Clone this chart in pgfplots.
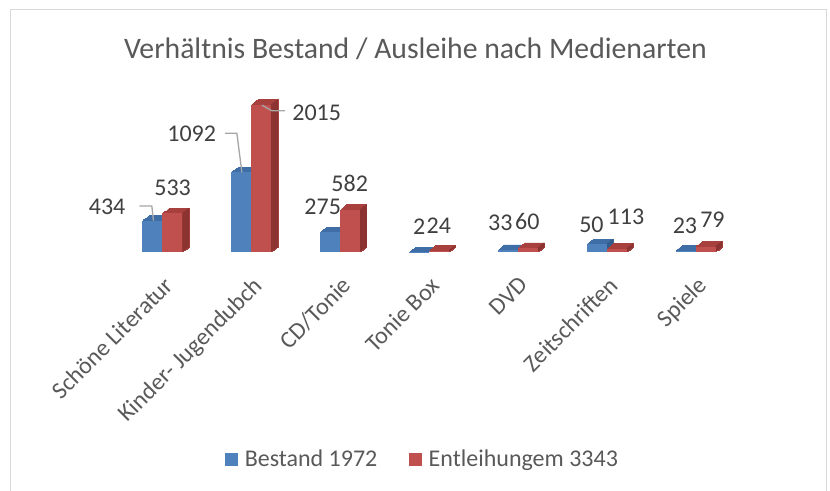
\documentclass[border=0pt]{standalone}
\usepackage{pgfplots}
\pgfplotsset{compat=1.18}
\usepackage{pgfplotstable}
\usepackage{fontspec}
\setmainfont{Carlito}
\definecolor{bfront}{HTML}{4F81BD}
\definecolor{btop}{HTML}{3F6EA6}
\definecolor{bside}{HTML}{335C8E}
\definecolor{rfront}{HTML}{C0504D}
\definecolor{rtop}{HTML}{A8403D}
\definecolor{rside}{HTML}{8A3331}
\definecolor{txt}{HTML}{595959}
\definecolor{labc}{HTML}{404040}
\definecolor{framec}{HTML}{D9D9D9}
\definecolor{leaderc}{HTML}{A6A6A6}

\pgfplotstableread{
x y
0 434
1 1092
2 275
3 2
4 33
5 113
6 23
}\bestand
\pgfplotstableread{
x y
0 533
1 2015
2 582
3 24
4 60
5 50
6 79
}\entl

% front bar: colour, shift, x, y, label, dx(px), dy(px)
\newcommand{\fb}[7]{\addplot[forget plot, fill=#1, draw=none, bar shift=#2,
  nodes near coords={#5},
  nodes near coords style={anchor=center, xshift=#6*0.75pt, yshift=#7*0.75pt, font=\fontsize{18pt}{21pt}\selectfont, text=labc}]
  coordinates {(#3,#4)};}

\begin{document}
\begin{tikzpicture}
\path[use as bounding box] (-88.5pt,-179pt) rectangle ++(622.5pt,368.25pt);
\draw[framec, line width=1.2pt] (-80.6pt,-180pt) -- (-80.6pt,182.1pt) -- (531.4pt,182.1pt) -- (531.4pt,-180pt);
\begin{axis}[
  name=ax, at={(0,0)}, anchor=south west,
  scale only axis, width=466.5pt, height=115.4pt,
  xmin=-0.5, xmax=6.5, ymin=0, ymax=2100,
  ybar, bar width=15pt,
  axis line style={draw=none},
  ytick=\empty,
  xtick={0,...,6},
  xticklabels={Schöne Literatur, Kinder- Jugendubch, CD/Tonie, Tonie Box, DVD, Zeitschriften, Spiele},
  major tick length=0pt,
  xticklabel style={xshift=0.4pt, yshift=-17pt, rotate=45, anchor=north east, inner sep=0pt, font=\fontsize{18pt}{21pt}\selectfont, text=txt},
  clip=false,
  legend style={at={(0.4904,-1.3466)}, anchor=center, draw=none, fill=none, legend columns=2,
    font=\fontsize{18pt}{21pt}\selectfont, text=txt,
    /tikz/every even column/.append style={column sep=22pt}},
  legend image code/.code={\fill[#1] (0pt,-4.875pt) rectangle (9.75pt,4.875pt); \path (12.5pt,0pt);},
]
% Bestand extrusion
\pgfplotsinvokeforeach{1,...,6}{
  \addplot[forget plot, fill=btop, draw=btop, line width=0.4pt, bar shift={-7.5pt+#1*0.8167pt}, yshift={#1*0.625pt}] table[x=x,y=y]{\bestand};
}
\pgfplotsinvokeforeach{1,...,6}{
  \addplot[forget plot, fill=bside, draw=none, bar width=1pt, bar shift={(#1-0.5)*0.8167pt}, yshift={#1*0.625pt}] table[x=x,y=y]{\bestand};
}
\fb{bfront}{-7.5pt}{0}{434}{434}{-45.3}{14}
\fb{bfront}{-7.5pt}{1}{1092}{1092}{-49.6}{38.3}
\fb{bfront}{-7.5pt}{2}{275}{275}{-7.4}{25.6}
\fb{bfront}{-7.5pt}{3}{2}{2}{0.3}{25.2}
\fb{bfront}{-7.5pt}{4}{33}{33}{-7.5}{27.4}
\fb{bfront}{-7.5pt}{5}{113}{50}{-5.3}{19.5}
\fb{bfront}{-7.5pt}{6}{23}{23}{-0.6}{24.6}
% Entleihungen extrusion
\pgfplotsinvokeforeach{1,...,6}{
  \addplot[forget plot, fill=rtop, draw=rtop, line width=0.4pt, bar shift={7.5pt+#1*0.8167pt}, yshift={#1*0.625pt}] table[x=x,y=y]{\entl};
}
\pgfplotsinvokeforeach{1,...,6}{
  \addplot[forget plot, fill=rside, draw=none, bar width=1pt, bar shift={15pt+(#1-0.5)*0.8167pt}, yshift={#1*0.625pt}] table[x=x,y=y]{\entl};
}
\fb{rfront}{7.5pt}{0}{533}{533}{0.2}{25.2}
\fb{rfront}{7.5pt}{1}{2015}{2015}{55.4}{-7.9}
\fb{rfront}{7.5pt}{2}{582}{582}{-0.4}{26.1}
\fb{rfront}{7.5pt}{3}{24}{24}{-0.2}{24.5}
\fb{rfront}{7.5pt}{4}{60}{60}{-0.5}{26.4}
\fb{rfront}{7.5pt}{5}{50}{113}{9.2}{31.6}
\fb{rfront}{7.5pt}{6}{79}{79}{6.9}{27}
\addlegendimage{fill=bfront, draw=none}
\addlegendentry{Bestand 1972}
\addlegendimage{fill=rfront, draw=none}
\addlegendentry{Entleihungem 3343}
% leader lines
\draw[leaderc, line width=1pt] ([shift={(-6.75pt,0pt)}]axis cs:0,434) -- ([shift={(-7.95pt,10.9pt)}]axis cs:0,434) -- ([shift={(-17.25pt,10.9pt)}]axis cs:0,434);
\draw[leaderc, line width=1pt] ([shift={(-7.05pt,0pt)}]axis cs:1,1092) -- ([shift={(-10.8pt,29.25pt)}]axis cs:1,1092) -- ([shift={(-19.6pt,29.25pt)}]axis cs:1,1092);
\draw[leaderc, line width=1pt] ([shift={(7.95pt,-0.3pt)}]axis cs:1,2015) -- ([shift={(15.45pt,-4.6pt)}]axis cs:1,2015) -- ([shift={(25.4pt,-4.6pt)}]axis cs:1,2015);
\end{axis}
\node[anchor=base, font=\fontsize{22.3pt}{26pt}\selectfont, text=txt] at (223.1pt,145.5pt) {Verhältnis Bestand / Ausleihe nach Medienarten};
\end{tikzpicture}
\end{document}
